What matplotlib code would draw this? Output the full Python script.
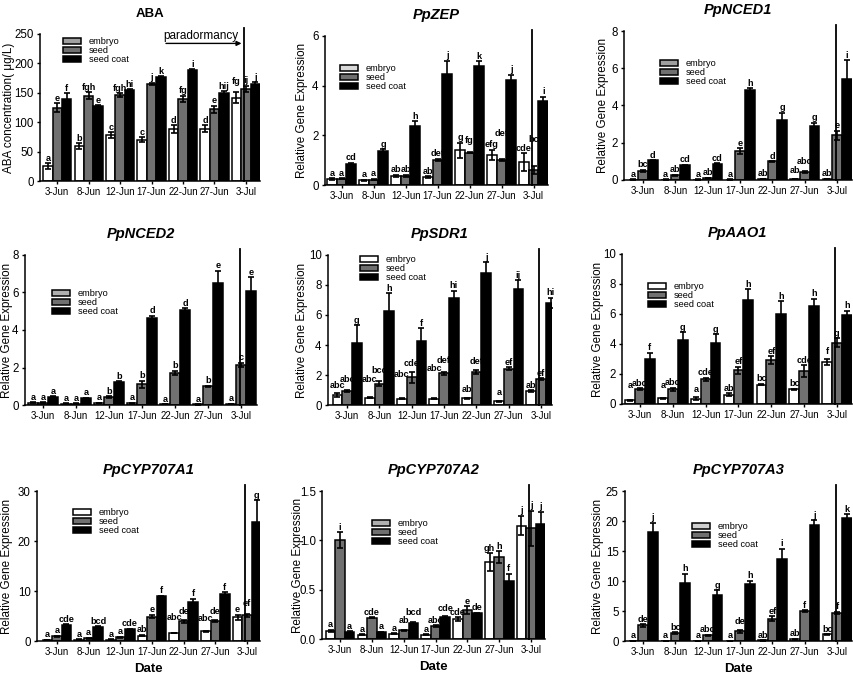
import matplotlib
matplotlib.use('Agg')
import matplotlib.pyplot as plt
from matplotlib.patches import Patch
import numpy as np

plt.rcParams['font.family'] = ['Liberation Sans', 'DejaVu Sans']

W, H = 854, 677

dates = ['3-Jun', '8-Jun', '12-Jun', '17-Jun', '22-Jun', '27-Jun', '3-Jul']
tissues = ['embryo', 'seed', 'seed coat']

# ---------------- data (embryo, seed, seed coat) ----------------
aba_mean = [[25, 59, 78, 70, 88, 89, 142],
            [125, 145, 146, 165, 140, 122, 157],
            [139, 127, 154, 177, 188, 150, 165]]
aba_err = [[5, 5, 5, 4, 7, 6, 10],
           [7, 6, 3, 2, 5, 6, 5],
           [10, 2, 2, 1, 2, 3, 3]]
aba_letters = ['a b c c d d fg', 'e fgh fgh j fg e ij', 'f e hi k i hij j']

zep_mean = [[0.25, 0.2, 0.37, 0.33, 1.4, 1.22, 0.92],
            [0.25, 0.22, 0.38, 1.0, 1.3, 1.0, 0.6],
            [0.85, 1.35, 2.38, 4.45, 4.8, 4.22, 3.4]]
zep_err = [[0.03, 0.02, 0.04, 0.03, 0.3, 0.2, 0.35],
           [0.02, 0.03, 0.04, 0.05, 0.03, 0.05, 0.15],
           [0.04, 0.08, 0.18, 0.55, 0.18, 0.22, 0.15]]
zep_letters = ['a a ab ab g efg cde', 'a a ab def fg def bc', 'cd g h j k j i']

nced1_mean = [[0.02, 0.02, 0.02, 0.02, 0.05, 0.06, 0.07],
              [0.5, 0.25, 0.12, 1.55, 1.0, 0.45, 2.4],
              [1.05, 0.78, 0.87, 4.83, 3.2, 2.9, 5.42]]
nced1_err = [[0.01, 0.01, 0.01, 0.01, 0.01, 0.01, 0.01],
             [0.06, 0.04, 0.01, 0.15, 0.02, 0.05, 0.25],
             [0.02, 0.04, 0.02, 0.1, 0.4, 0.18, 1.0]]
nced1_letters = ['a a a a ab ab ab', 'bc ab ab e d abc e', 'd cd cd h g g i']

nced2_mean = [[0.12, 0.08, 0.1, 0.1, 0.04, 0.03, 0.05],
              [0.12, 0.08, 0.42, 1.1, 1.7, 1.0, 2.15],
              [0.45, 0.35, 1.22, 4.62, 5.05, 6.52, 6.1]]
nced2_err = [[0.02, 0.01, 0.01, 0.02, 0.01, 0.01, 0.01],
             [0.02, 0.01, 0.05, 0.2, 0.12, 0.04, 0.1],
             [0.03, 0.03, 0.04, 0.15, 0.12, 0.65, 0.7]]
nced2_letters = ['a a a a a a a', 'a a b b b b c', 'a a b d d e e']

sdr1_mean = [[0.65, 0.5, 0.42, 0.42, 0.45, 0.25, 0.95],
             [0.95, 1.42, 1.85, 2.12, 2.22, 2.42, 1.75],
             [4.15, 6.25, 4.28, 7.15, 8.77, 7.72, 6.8]]
sdr1_err = [[0.12, 0.05, 0.03, 0.03, 0.05, 0.05, 0.05],
            [0.05, 0.15, 0.35, 0.1, 0.12, 0.1, 0.05],
            [1.15, 1.2, 0.85, 0.45, 0.75, 0.6, 0.35]]
sdr1_letters = ['abc abc abc abc ab a ab', 'abc bcd cde def def ef ef', 'g h f hi j ij hi']

aao1_mean = [[0.25, 0.38, 0.35, 0.62, 1.3, 0.98, 2.8],
             [1.0, 0.97, 1.65, 2.25, 2.92, 2.2, 4.1],
             [3.0, 4.28, 4.1, 6.95, 6.0, 6.52, 5.95]]
aao1_err = [[0.03, 0.02, 0.1, 0.1, 0.05, 0.03, 0.2],
            [0.05, 0.1, 0.1, 0.25, 0.28, 0.38, 0.3],
            [0.4, 0.5, 0.55, 0.7, 0.85, 0.5, 0.25]]
aao1_letters = ['a a a ab bc bc f', 'abc abc cde ef ef cde g', 'f g g h h h h']

cyp1_mean = [[0.2, 0.3, 0.3, 1.1, 1.6, 2.0, 4.8],
             [1.0, 0.6, 0.8, 4.9, 4.0, 4.1, 5.2],
             [3.3, 2.9, 2.4, 9.0, 7.8, 9.5, 23.8]]
cyp1_err = [[0.05, 0.05, 0.05, 0.1, 0.05, 0.1, 0.5],
            [0.1, 0.1, 0.1, 0.3, 0.3, 0.2, 0.3],
            [0.1, 0.1, 0.1, 0.1, 0.7, 0.3, 4.4]]
cyp1_letters = ['a a a ab abc abc e', 'a a a e de de ef', 'cde bcd cde f f f g']

cyp2_mean = [[0.085, 0.045, 0.055, 0.045, 0.2, 0.78, 1.15],
             [1.0, 0.215, 0.09, 0.13, 0.29, 0.83, 1.12],
             [0.07, 0.07, 0.16, 0.22, 0.26, 0.59, 1.17]]
cyp2_err = [[0.01, 0.005, 0.005, 0.005, 0.02, 0.09, 0.1],
            [0.08, 0.005, 0.005, 0.01, 0.04, 0.06, 0.18],
            [0.01, 0.005, 0.01, 0.01, 0.005, 0.07, 0.12]]
cyp2_letters = ['a a a a cde gh j', 'i cde ab abc e h j', 'a a bcd cde de f j']

cyp3_mean = [[0.05, 0.05, 0.05, 0.05, 0.1, 0.3, 1.1],
             [2.6, 1.35, 0.95, 1.6, 3.75, 4.95, 4.7],
             [18.2, 9.7, 7.7, 9.5, 13.6, 19.3, 20.5]]
cyp3_err = [[0.02, 0.02, 0.02, 0.02, 0.02, 0.05, 0.05],
            [0.2, 0.1, 0.1, 0.2, 0.4, 0.15, 0.2],
            [1.5, 1.5, 0.8, 0.5, 1.8, 0.8, 0.6]]
cyp3_letters = ['a a a a ab ab bc', 'de bc abc de ef f f', 'j h g h i j k']

# ---------------- layout / style ----------------
bar_colors = ['white', '#707070', 'black']
GENE_YLABEL = 'Relative Gene Expression'

panels = [
    dict(title='ABA', italic=False, ylabel='ABA concentration( μg/L)', mean=aba_mean, err=aba_err,
         letters=aba_letters, yticks=[0, 50, 100, 150, 200, 250], box=(40, 260, 181, 34),
         xlim=(-0.55, 6.45), leg=(63, 42), legc='#a0a0a0', ylx=9,
         lifts={(0, 6): 5}),
    dict(title='PpZEP', italic=True, ylabel=GENE_YLABEL, mean=zep_mean, err=zep_err,
         letters=zep_letters, yticks=[0, 2, 4, 6], box=(325, 548, 185, 36),
         xlim=(-0.52, 6.45), leg=(340, 69), legc='#d8d8d8', ylx=302,
         lifts={(1, 4): 6, (1, 5): 20, (1, 6): 22}),
    dict(title='PpNCED1', italic=True, ylabel=GENE_YLABEL, mean=nced1_mean, err=nced1_err,
         letters=nced1_letters, yticks=[0, 2, 4, 6, 8], box=(624, 852, 180, 31),
         xlim=(-0.59, 6.46), leg=(660, 64), legc='#a0a0a0', ylx=603,
         lifts={(1, 5): 4, (0, 5): 3}),
    dict(title='PpNCED2', italic=True, ylabel=GENE_YLABEL, mean=nced2_mean, err=nced2_err,
         letters=nced2_letters, yticks=[0, 2, 4, 6, 8], box=(25, 257, 405, 255),
         xlim=(-0.55, 6.48), leg=(52, 294), legc='#b0b0b0', ylx=7,
         lifts={}),
    dict(title='PpSDR1', italic=True, ylabel=GENE_YLABEL, mean=sdr1_mean, err=sdr1_err,
         letters=sdr1_letters, yticks=[0, 2, 4, 6, 8, 10], box=(328, 552, 405, 255),
         xlim=(-0.59, 6.34), leg=(360, 260), legc='white', ylx=302,
         lifts={(0, 0): 3, (1, 0): 6, (0, 1): 12, (1, 1): 6, (0, 2): 19, (1, 2): 3,
                (0, 3): 25, (1, 3): 6, (0, 4): 3, (1, 4): 3, (0, 5): 3}),
    dict(title='PpAAO1', italic=True, ylabel=GENE_YLABEL, mean=aao1_mean, err=aao1_err,
         letters=aao1_letters, yticks=[0, 2, 4, 6, 8, 10], box=(622, 852, 404, 254),
         xlim=(-0.55, 6.46), leg=(648, 287), legc='white', ylx=598,
         lifts={(0, 0): 9, (0, 1): 8, (0, 2): 3, (0, 6): 3}),
    dict(title='PpCYP707A1', italic=True, ylabel=GENE_YLABEL, mean=cyp1_mean, err=cyp1_err,
         letters=cyp1_letters, yticks=[0, 10, 20, 30], box=(37, 260, 641, 491),
         xlim=(-0.63, 6.41), leg=(73, 513), legc='white', ylx=7,
         lifts={(0, 4): 10, (1, 4): 3, (0, 5): 7, (1, 5): 3, (1, 6): 5}),
    dict(title='PpCYP707A2', italic=True, ylabel=GENE_YLABEL, mean=cyp2_mean, err=cyp2_err,
         letters=cyp2_letters, yticks=[0.0, 0.5, 1.0, 1.5], box=(322, 545, 639, 491),
         xlim=(-0.57, 6.44), leg=(372, 524), legc='#b0b0b0', ylx=298,
         lifts={(1, 2): 4, (2, 2): 5, (2, 3): 3}),
    dict(title='PpCYP707A3', italic=True, ylabel=GENE_YLABEL, mean=cyp3_mean, err=cyp3_err,
         letters=cyp3_letters, yticks=[0, 5, 10, 15, 20, 25], box=(625, 852, 641, 491),
         xlim=(-0.56, 6.46), leg=(692, 527), legc='#d0d0d0', ylx=598,
         lifts={(1, 3): 4}),
]

fig = plt.figure(figsize=(W / 100, H / 100), dpi=100)

bw = 0.3
offsets = [-bw, 0.0, bw]
x = np.arange(len(dates))

for k, p in enumerate(panels):
    L, R, B, T = p['box']
    ax = fig.add_axes([L / W, 1 - B / H, (R - L) / W, (B - T) / H])
    for i in range(3):
        xs = x + offsets[i]
        ax.bar(xs, p['mean'][i], width=bw, color=bar_colors[i], edgecolor='black',
               linewidth=1.1, zorder=2)
        ax.errorbar(xs, p['mean'][i], yerr=p['err'][i], fmt='none', ecolor='black',
                    elinewidth=1.2, capsize=2.0, capthick=1.2, zorder=3)
        labs = p['letters'][i].split()
        for j in range(len(dates)):
            top = p['mean'][i][j] + p['err'][i][j]
            lift = p['lifts'].get((i, j), 0)
            ax.annotate(labs[j], (xs[j], top), xytext=(0, (2.5 + lift) * 0.72),
                        textcoords='offset points', ha='center', va='baseline',
                        fontsize=6.6, fontweight='bold', annotation_clip=False, zorder=4)
    ymax = p['yticks'][-1]
    ax.set_ylim(0, ymax)
    ax.set_xlim(*p['xlim'])
    ax.set_yticks(p['yticks'])
    if p['yticks'][-1] == 1.5:
        ax.set_yticklabels([f'{v:.1f}' for v in p['yticks']])
    ax.set_xticks(x)
    ax.set_xticklabels(dates)
    for s in ['top', 'right']:
        ax.spines[s].set_visible(False)
    for s in ['left', 'bottom']:
        ax.spines[s].set_linewidth(1.1)
    ax.tick_params(axis='both', direction='out', length=2.5, width=1.0, pad=2)
    ax.tick_params(axis='x', labelsize=7)
    ax.tick_params(axis='y', labelsize=8.3)

    # dormancy marker line
    ax.plot([5.95, 5.95], [0, ymax * 1.04], color='black', lw=1.3, clip_on=False, zorder=5)

    ax.set_title(p['title'], fontsize=9.5 if not p['italic'] else 10.5, fontweight='bold',
                 fontstyle='italic' if p['italic'] else 'normal', pad=12)
    ax.set_ylabel(p['ylabel'], fontsize=8.4, va='center')
    ax.yaxis.set_label_coords((p['ylx'] - L) / (R - L), 0.5)

    if k >= 6:
        ax.set_xlabel('Date', fontsize=9.5, fontweight='bold', labelpad=4)

    handles = [Patch(facecolor=c, edgecolor='black', linewidth=1.1)
               for c in [p['legc'], bar_colors[1], bar_colors[2]]]
    lx, ly = p['leg']
    ax.legend(handles, tissues, loc='upper left',
              bbox_to_anchor=(lx / W, 1 - (ly - 4.8) / H), bbox_transform=fig.transFigure,
              frameon=False, fontsize=6.6, handlelength=2.0, handleheight=0.6,
              labelspacing=0.0, handletextpad=0.8, borderpad=0, borderaxespad=0)

    if k == 0:
        ax.annotate('', xy=(5.95, 234), xytext=(3.37, 234),
                    arrowprops=dict(arrowstyle='-|>', color='black', lw=1.0,
                                    mutation_scale=7), annotation_clip=False)
        ax.text(3.37, 236, 'paradormancy', fontsize=8.5, ha='left', va='bottom')

fig.savefig('out.png', dpi=100)
